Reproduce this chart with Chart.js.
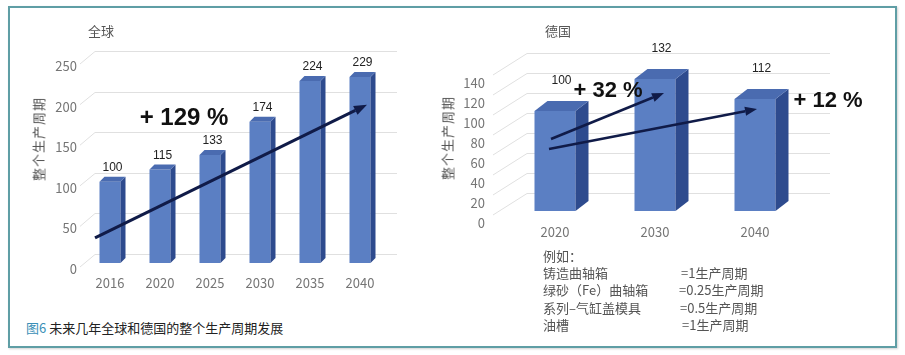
<!DOCTYPE html>
<html>
<head>
<meta charset="utf-8">
<script src="https://cdn.jsdelivr.net/npm/chart.js@4/dist/chart.umd.min.js"></script>
<style>
  html, body { margin: 0; padding: 0; background: #fff; }
  body { width: 905px; height: 355px; position: relative; overflow: hidden; font-family: "Noto Sans CJK SC", "Noto Sans", sans-serif; }
  .frame { position: absolute; left: 8px; top: 6px; width: 889px; height: 342px; box-sizing: border-box; border: 2px solid #5f9ea5; box-shadow: 1px 1px 2px rgba(0,0,0,0.18); }
  canvas { position: absolute; top: 0; }
  .t { position: absolute; white-space: nowrap; color: #555; }
  .ytitle { position: absolute; white-space: nowrap; color: #555; font-size: 13px; letter-spacing: 1px; transform: translate(-50%, -50%) rotate(-90deg); }
  .note { position: absolute; white-space: nowrap; color: #555; font-size: 13px; line-height: 17px; }
</style>
</head>
<body>
<div class="frame"></div>
<canvas id="cGlobal" width="450" height="300" style="left:0px"></canvas>
<canvas id="cGermany" width="450" height="250" style="left:450px"></canvas>

<div class="t" style="left:88px; top:21px; font-size:13px;">全球</div>
<div class="t" style="left:545px; top:21px; font-size:13px;">德国</div>
<div class="ytitle" style="left:38px; top:139px;">整个生产周期</div>
<div class="ytitle" style="left:447px; top:138px;">整个生产周期</div>

<div class="note" style="left:543px; top:247px;">例如：</div>
<div class="note" style="left:543px; top:264px;">铸造曲轴箱</div>
<div class="note" style="left:543px; top:281px;">绿砂（Fe）曲轴箱</div>
<div class="note" style="left:543px; top:299px;">系列–气缸盖模具</div>
<div class="note" style="left:543px; top:316px;">油槽</div>
<div class="note" style="left:681px; top:264px;">=1生产周期</div>
<div class="note" style="left:679px; top:281px;">=0.25生产周期</div>
<div class="note" style="left:680px; top:299px;">=0.5生产周期</div>
<div class="note" style="left:682px; top:316px;">=1生产周期</div>

<div class="t" style="left:26px; top:318px; font-size:13px; color:#222;"><span style="color:#3a8fb7">图6</span> 未来几年全球和德国的整个生产周期发展</div>

<script>
// ---------- data ----------
const globalYears = ['2016', '2020', '2025', '2030', '2035', '2040'];
const globalValues = [100, 115, 133, 174, 224, 229];
const globalTicks = [0, 50, 100, 150, 200, 250];
const globalArrowX = [-0.3, 5.14];      // category index
const globalArrowY = [31, 195];         // value
const globalNote = '+ 129 %';
const globalNoteAt = [1.48, 178];

const germanYears = ['2020', '2030', '2040'];
const germanValues = [100, 132, 112];
const germanTicks = [0, 20, 40, 60, 80, 100, 120, 140];
const germanArrow1X = [-0.04, 1.09];
const germanArrow1Y = [72, 118];
const germanArrow2X = [-0.06, 2.02];
const germanArrow2Y = [62, 102];
const germanNote1 = '+ 32 %';
const germanNote1At = [0.53, 120];
const germanNote2 = '+ 12 %';
const germanNote2At = [2.73, 110];

// ---------- styles ----------
const FRONT = '#5b7fc3';
const SIDE = '#2e4b8e';
const TOP = '#4a6bb0';
const ARROW = '#101b48';
const TICK_COLOR = '#757575';

function drawArrow(ctx, x1, y1, x2, y2, lw, hl, hw) {
  const ang = Math.atan2(y2 - y1, x2 - x1);
  const bx = x2 - hl * Math.cos(ang), by = y2 - hl * Math.sin(ang);
  ctx.save();
  ctx.strokeStyle = ARROW; ctx.fillStyle = ARROW; ctx.lineWidth = lw; ctx.lineCap = 'butt';
  ctx.beginPath(); ctx.moveTo(x1, y1); ctx.lineTo(bx, by); ctx.stroke();
  ctx.beginPath();
  ctx.moveTo(x2, y2);
  ctx.lineTo(bx + hw / 2 * Math.sin(ang), by - hw / 2 * Math.cos(ang));
  ctx.lineTo(bx - hw / 2 * Math.sin(ang), by + hw / 2 * Math.cos(ang));
  ctx.closePath(); ctx.fill();
  ctx.restore();
}

function make3D(o) {
  return {
    id: 'fake3d',
    beforeDatasetsDraw(chart) {
      const ctx = chart.ctx, ys = chart.scales.y, area = chart.chartArea;
      ctx.save();
      ctx.strokeStyle = '#e0e0e0'; ctx.lineWidth = 1;
      ys.ticks.forEach(t => {
        const yf = ys.getPixelForValue(t.value);
        const yb = Math.round(yf - o.backDy) + 0.5;
        ctx.beginPath();
        ctx.moveTo(area.left - o.diagIn, yf + o.diagDrop);
        ctx.lineTo(area.left + o.backDx, yb);
        ctx.lineTo(area.right + o.gridExtend, yb);
        ctx.stroke();
      });
      ctx.restore();
    },
    afterDatasetsDraw(chart) {
      const ctx = chart.ctx;
      const meta = chart.getDatasetMeta(0);
      const vals = chart.data.datasets[0].data;
      ctx.save();
      meta.data.forEach((bar, i) => {
        const w = bar.width, xl = bar.x - w / 2, xr = bar.x + w / 2, y = bar.y, b = bar.base;
        ctx.fillStyle = SIDE;
        ctx.beginPath();
        ctx.moveTo(xr, y); ctx.lineTo(xr + o.dx, y - o.dy); ctx.lineTo(xr + o.dx, b - o.dy); ctx.lineTo(xr, b);
        ctx.closePath(); ctx.fill();
        ctx.fillStyle = TOP;
        ctx.beginPath();
        ctx.moveTo(xl, y); ctx.lineTo(xl + o.dx, y - o.dy); ctx.lineTo(xr + o.dx, y - o.dy); ctx.lineTo(xr, y);
        ctx.closePath(); ctx.fill();
        ctx.fillStyle = '#222';
        ctx.font = o.labelFont;
        ctx.textAlign = 'center'; ctx.textBaseline = 'bottom';
        ctx.fillText(String(vals[i]), bar.x + o.dx / 2, y - o.dy - o.labelLift);
      });
      const xs = chart.scales.x, ys = chart.scales.y;
      o.arrows.forEach(a => {
        drawArrow(ctx, xs.getPixelForValue(a.x[0]), ys.getPixelForValue(a.y[0]),
                  xs.getPixelForValue(a.x[1]), ys.getPixelForValue(a.y[1]), o.arrowW, o.headL, o.headW);
      });
      o.notes.forEach(n => {
        ctx.fillStyle = '#111';
        ctx.font = o.noteFont;
        ctx.textAlign = 'center'; ctx.textBaseline = 'middle';
        ctx.fillText(n.text, xs.getPixelForValue(n.at[0]), ys.getPixelForValue(n.at[1]));
      });
      ctx.restore();
    }
  };
}

function buildChart(id, labels, values, ticks, layout, o) {
  return new Chart(document.getElementById(id), {
    type: 'bar',
    data: {
      labels: labels,
      datasets: [{ data: values, backgroundColor: FRONT, borderWidth: 0,
                   barPercentage: o.barPct, categoryPercentage: 1.0 }]
    },
    options: {
      responsive: false, animation: false, devicePixelRatio: 1,
      layout: { padding: layout.padding },
      plugins: { legend: { display: false }, tooltip: { enabled: false }, title: { display: false } },
      scales: {
        x: {
          grid: { display: false, drawTicks: false }, border: { display: false },
          ticks: { color: TICK_COLOR, font: { family: 'Noto Sans CJK SC', size: 13 }, padding: layout.xPad, maxRotation: 0 },
          afterFit(s) { s.height = layout.xHeight; }
        },
        y: {
          min: 0, max: ticks[ticks.length - 1],
          grid: { display: false, drawTicks: false }, border: { display: false },
          afterBuildTicks(s) { s.ticks = ticks.map(v => ({ value: v })); },
          ticks: { color: TICK_COLOR, font: { family: 'Noto Sans CJK SC', size: 13 }, padding: layout.yPad, labelOffset: layout.labelOffset },
          afterFit(s) { s.width = layout.yWidth; }
        }
      }
    },
    plugins: [make3D(o)]
  });
}

buildChart('cGlobal', globalYears, globalValues, globalTicks,
  { padding: { top: 60, right: 65, left: 0, bottom: 0 }, xHeight: 37, xPad: 12, yWidth: 85, yPad: 8, labelOffset: 6 },
  { barPct: 0.42, dx: 5, dy: 5, backDx: 10, backDy: 9, diagIn: 5, diagDrop: 4, gridExtend: 12,
    labelFont: '12px "Liberation Sans", sans-serif', labelLift: 3,
    arrows: [{ x: globalArrowX, y: globalArrowY }], arrowW: 3, headL: 13, headW: 10,
    notes: [{ text: globalNote, at: globalNoteAt }], noteFont: 'bold 24px "Liberation Sans", Arial, sans-serif' });

buildChart('cGermany', germanYears, germanValues, germanTicks,
  { padding: { top: 71, right: 95, left: 0, bottom: 0 }, xHeight: 39, xPad: 13, yWidth: 55, yPad: 20, labelOffset: 12 },
  { barPct: 0.41, dx: 13, dy: 10, backDx: 22, backDy: 18, diagIn: 12, diagDrop: 4, gridExtend: 25,
    labelFont: '12px "Liberation Sans", sans-serif', labelLift: 14,
    arrows: [{ x: germanArrow1X, y: germanArrow1Y }, { x: germanArrow2X, y: germanArrow2Y }], arrowW: 2.5, headL: 12, headW: 9,
    notes: [{ text: germanNote1, at: germanNote1At }, { text: germanNote2, at: germanNote2At }], noteFont: 'bold 22px "Liberation Sans", Arial, sans-serif' });
</script>
</body>
</html>
